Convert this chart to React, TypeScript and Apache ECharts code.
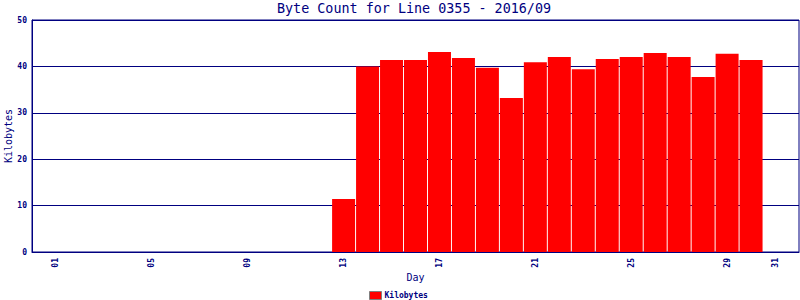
import React, { useEffect, useRef } from "react";
import * as echarts from "echarts";

const days = [1, 2, 3, 4, 5, 6, 7, 8, 9, 10, 11, 12, 13, 14, 15, 16, 17, 18, 19, 20, 21, 22, 23, 24, 25, 26, 27, 28, 29, 30];
const kilobytes = [0, 0, 0, 0, 0, 0, 0, 0, 0, 0, 0, 0, 11.4, 40.0, 41.4, 41.4, 43.1, 41.8, 39.7, 33.2, 40.9, 42.0, 39.4, 41.6, 42.0, 42.9, 42.0, 37.7, 42.7, 41.4];
const xTickDays = [1, 5, 9, 13, 17, 21, 25, 29, 31];
const yTicks = [0, 10, 20, 30, 40, 50];

const NAVY = "#000080";
const MONO = "DejaVu Sans Mono, Liberation Mono, monospace";

export default function App() {
  const ref = useRef<HTMLDivElement>(null);
  useEffect(() => {
    document.body.style.margin = "0";
    if (!ref.current) return;
    const chart = echarts.init(ref.current, null, { renderer: "svg" });
    chart.setOption({
      animation: false,
      title: {
        text: "Byte Count for Line 0355 - 2016/09",
        left: 414,
        textAlign: "center",
        top: 2,
        padding: 0,
        textStyle: { fontFamily: MONO, fontSize: 13.4, fontWeight: "normal", color: NAVY },
      },
      legend: {
        top: 291,
        left: 369,
        itemWidth: 12,
        itemHeight: 8,
        itemGap: 4,
        padding: 0,
        icon: "rect",
        itemStyle: { borderColor: "#808080", borderWidth: 1 },
        textStyle: { fontFamily: MONO, fontSize: 8, fontWeight: "bold", color: NAVY, padding: [0, 0, 0, -2] },
        data: ["Kilobytes"],
      },
      grid: {
        left: 32,
        right: 1,
        top: 20,
        bottom: 48,
        outerBoundsMode: "none",
        containLabel: false,
        show: true,
        borderColor: NAVY,
        borderWidth: 1,
        backgroundColor: "#ffffff",
      },
      xAxis: {
        type: "value",
        min: 0,
        max: 32,
        interval: 1,
        name: "Day",
        nameLocation: "middle",
        nameGap: 20,
        nameMoveOverlap: false,
        nameTextStyle: { fontFamily: MONO, fontSize: 10, color: NAVY },
        axisLine: { lineStyle: { color: NAVY, width: 1 } },
        axisTick: { show: false },
        splitLine: { show: false },
        axisLabel: {
          rotate: 90,
          margin: 6,
          fontFamily: MONO,
          fontSize: 8,
          fontWeight: "bold",
          color: NAVY,
          showMinLabel: true,
          showMaxLabel: true,
          formatter: (v: number) => (xTickDays.includes(v) ? String(v).padStart(2, "0") : ""),
        },
      },
      yAxis: {
        type: "value",
        min: yTicks[0],
        max: yTicks[yTicks.length - 1],
        interval: 10,
        name: "Kilobytes",
        nameLocation: "middle",
        nameGap: 19,
        nameMoveOverlap: false,
        nameTextStyle: { fontFamily: MONO, fontSize: 10, color: NAVY },
        axisLine: { show: true, lineStyle: { color: NAVY, width: 1 } },
        axisTick: { show: false },
        splitLine: { show: true, lineStyle: { color: NAVY, width: 1 } },
        axisLabel: { margin: 5, fontFamily: MONO, fontSize: 8, fontWeight: "bold", color: NAVY },
      },
      series: [
        {
          name: "Kilobytes",
          type: "bar",
          barWidth: 23,
          itemStyle: { color: "#ff0000" },
          data: days.map((d, i) => [d, kilobytes[i]]),
        },
      ],
    });
    return () => chart.dispose();
  }, []);
  return <div ref={ref} style={{ width: 800, height: 300 }} />;
}
